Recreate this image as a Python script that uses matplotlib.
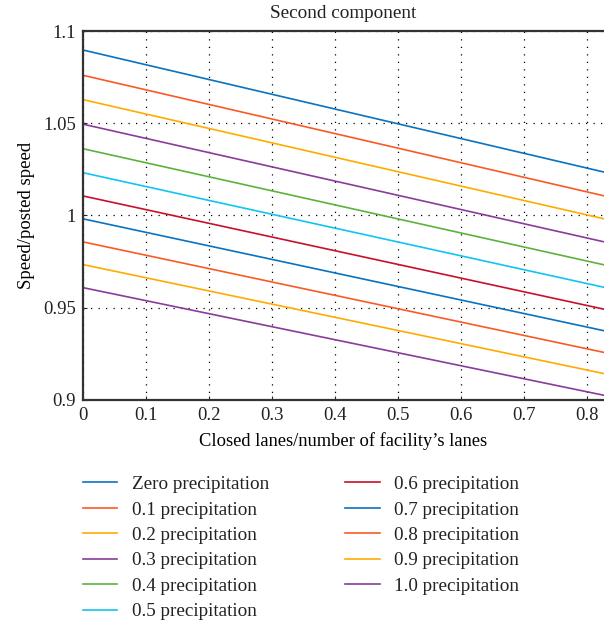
import numpy as np
import matplotlib
matplotlib.use("Agg")
import matplotlib.pyplot as plt

# closed lanes / number of lanes (line endpoints, clipped by xlim)
cierre = [0.0, 0.9]

etiquetas = ["Zero precipitation", "0.1 precipitation", "0.2 precipitation",
             "0.3 precipitation", "0.4 precipitation", "0.5 precipitation",
             "0.6 precipitation", "0.7 precipitation", "0.8 precipitation",
             "0.9 precipitation", "1.0 precipitation"]

# speed/posted speed at closed-lane ratio 0 and 0.9
v_inicio = [1.0897, 1.0760, 1.0628, 1.0495, 1.0362, 1.0232,
            1.0106, 0.9982, 0.9857, 0.9734, 0.9609]
v_final = [1.0177, 1.0049, 0.9925, 0.9801, 0.9677, 0.9556,
           0.9438, 0.9322, 0.9205, 0.9091, 0.8974]

colores = ["#0a72c0", "#fa5a24", "#ffab00", "#8a3c9a", "#5cb33c", "#12c4f0",
           "#c8102e", "#0a72c0", "#fa5a24", "#ffab00", "#8a3c9a"]

plt.rcParams['font.family'] = ['Liberation Serif', 'DejaVu Serif']
plt.rcParams['font.size'] = 13.5
plt.rcParams['text.color'] = '#222222'
plt.rcParams['xtick.labelcolor'] = '#222222'
plt.rcParams['ytick.labelcolor'] = '#222222'

fig = plt.figure(figsize=(6.04, 6.25), dpi=100)
ax = fig.add_axes([83/604, 1 - 400/625, 521/604, 369/625])

for i in range(len(etiquetas)):
    ax.plot(cierre, [v_inicio[i], v_final[i]], color=colores[i], lw=1.2,
            label=etiquetas[i])

ax.set_xlim(0, 0.827)
ax.set_ylim(0.9, 1.1)
ax.set_xticks(np.arange(0, 0.81, 0.1))
ax.set_xticklabels(["0", "0.1", "0.2", "0.3", "0.4", "0.5", "0.6", "0.7", "0.8"])
ax.set_yticks([0.9, 0.95, 1.0, 1.05, 1.1])
ax.set_yticklabels(["0.9", "0.95", "1", "1.05", "1.1"])
ax.tick_params(direction="in", length=3, width=0.8, color="#222222")
ax.tick_params(axis="x", pad=5)
ax.tick_params(axis="y", pad=5)
ax.grid(True, linestyle=(0, (1, 5)), color="black", lw=0.9)

for s in ["left", "bottom", "top"]:
    ax.spines[s].set_linewidth(1.6)
    ax.spines[s].set_color("#333333")
ax.spines["right"].set_visible(False)

ax.set_title("Second component", fontsize=13.8, pad=9)
ax.set_xlabel("Closed lanes/number of facility\u2019s lanes", fontsize=13.3, labelpad=6)
ax.set_ylabel("Speed/posted speed", fontsize=13.5, labelpad=6)

fig.legend(loc="upper left", bbox_to_anchor=(75/604, 1 - 468/625), ncol=2,
           frameon=False, fontsize=13.8, handlelength=1.8, handletextpad=0.75,
           columnspacing=4.0, labelspacing=0.42, borderaxespad=0)

fig.savefig("out.png", dpi=100)
